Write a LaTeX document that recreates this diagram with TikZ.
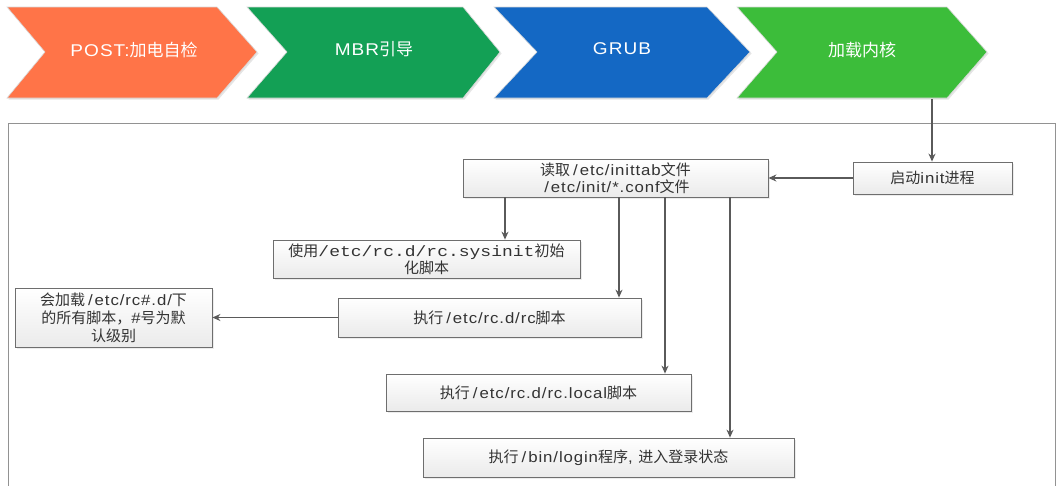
\documentclass[tikz,border=0pt]{standalone}
\usepackage{fontspec}
\setmainfont{Liberation Sans}[FakeStretch=1.12, LetterSpace=6]
\newfontfamily\cjk{Noto Sans CJK SC}
\newfontfamily\mono{Liberation Mono}[FakeStretch=1.2]
\usetikzlibrary{arrows.meta,shadows}
\newcommand\wsl{\kern3pt/\kern2pt}
\definecolor{cOrange}{HTML}{FF7448}
\definecolor{cDGreen}{HTML}{13A055}
\definecolor{cBlue}{HTML}{1468C4}
\definecolor{cLGreen}{HTML}{3CBD3A}
\definecolor{cLine}{HTML}{5A5A5A}
\definecolor{cBorder}{HTML}{6E6E6E}
\definecolor{cText}{HTML}{333333}
\tikzset{
  chev/.style={draw=white!85!black, line width=0.6pt, drop shadow={opacity=0.2,shadow xshift=1.5pt,shadow yshift=-1.5pt}},
  chevtext/.style={text=white, font=\fontsize{17}{19}\selectfont, inner sep=0pt},
  boxn/.style={draw=cBorder, line width=0.8pt, top color=white, bottom color=black!8, align=center, inner sep=2pt,
    text=cText, font=\fontsize{15}{18}\selectfont, drop shadow={opacity=0.15,shadow xshift=1.5pt,shadow yshift=-1.5pt}},
  conn/.style={draw=cLine, line width=1.2pt, -{Stealth[length=8pt,width=7pt]}},
}
\begin{document}
\begin{tikzpicture}[x=1pt,y=-1pt]
\useasboundingbox (0,0) rectangle (1060,485);
\fill[white] (0,0) rectangle (1060,485);
% chevrons
\path[chev, fill=cOrange] (7,7) -- (217,7) -- (257,52) -- (217,98) -- (7,98) -- (45,52) -- cycle;
\path[chev, fill=cDGreen] (247,7) -- (463,7) -- (500,52) -- (463,98) -- (247,98) -- (287,52) -- cycle;
\path[chev, fill=cBlue] (494,7) -- (707,7) -- (750,52) -- (707,98) -- (494,98) -- (537,52) -- cycle;
\path[chev, fill=cLGreen] (737,7) -- (947,7) -- (987,52) -- (947,98) -- (737,98) -- (777,52) -- cycle;
\node[chevtext] (s1) at (134,50) {POST:{\cjk 加电自检}};
\node[chevtext] (s2) at (374,49) {MBR{\cjk 引导}};
\node[chevtext] (s3) at (622,49) {GRUB};
\node[chevtext] (s4) at (862,50) {\cjk 加载内核};
\coordinate (k4) at (932,99);
% frame
\draw[cBorder!75, line width=0.9pt] (8,490) -- (8,123) -- (1055,123) -- (1055,490);
% boxes
\node[boxn, minimum width=159pt, minimum height=32pt] (init) at (932.5,178) {{\cjk 启动}init{\cjk 进程}};
\node[boxn, minimum width=305pt, minimum height=38pt, font=\fontsize{15}{17}\selectfont] (read) at (615.5,178)
  {{\cjk 读取}\wsl etc/inittab{\cjk 文件}\\\wsl etc/init/*.conf{\cjk 文件}};
\node[boxn, minimum width=307pt, minimum height=38pt, font=\fontsize{15}{17}\selectfont] (sys) at (426.5,259)
  {{\cjk 使用}{\mono /etc/rc.d/rc.sysinit}{\cjk 初始}\\{\cjk 化脚本}};
\node[boxn, minimum width=303pt, minimum height=39pt] (rc) at (489.5,317.5) {{\cjk 执行}\wsl etc/rc.d/rc{\cjk 脚本}};
\node[boxn, minimum width=197pt, minimum height=59pt, font=\fontsize{15}{18}\selectfont] (all) at (113.5,317.5)
  {{\cjk 会加载}\wsl etc/rc\#.d/{\cjk 下}\\{\cjk 的所有脚本，}\#{\cjk 号为默}\\{\cjk 认级别}};
\node[boxn, minimum width=305pt, minimum height=37pt] (local) at (538.5,392.5) {{\cjk 执行}\wsl etc/rc.d/rc.local{\cjk 脚本}};
\node[boxn, minimum width=371pt, minimum height=39pt] (login) at (608.5,457.5) {{\cjk 执行}\wsl bin/login{\cjk 程序}, {\cjk 进入登录状态}};
% connectors
\draw[conn] (k4) -- (init.north -| k4);
\draw[conn] (init.west) -- (read.east);
\draw[conn] (read.south -| 505,0) -- (sys.north -| 505,0);
\draw[conn] (read.south -| 619,0) -- (rc.north -| 619,0);
\draw[conn] (read.south -| 665,0) -- (local.north -| 665,0);
\draw[conn] (read.south -| 730,0) -- (login.north -| 730,0);
\draw[conn] (rc.west) -- (all.east);
\end{tikzpicture}
\end{document}
